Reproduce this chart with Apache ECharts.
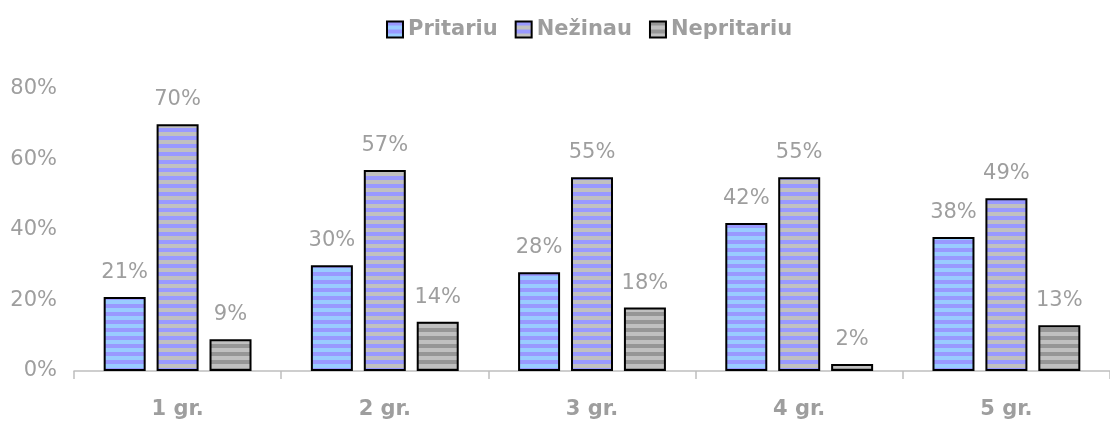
<!DOCTYPE html>
<html>
<head>
<meta charset="utf-8">
<script src="https://cdn.jsdelivr.net/npm/echarts@6/dist/echarts.min.js"></script>
<style>
  html, body { margin: 0; padding: 0; background: #fff; }
  #chart { width: 1110px; height: 423px; }
</style>
</head>
<body>
<div id="chart"></div>
<script>
// Categories and values (percent)
const categories = ['1 gr.', '2 gr.', '3 gr.', '4 gr.', '5 gr.'];
const seriesNames = ['Pritariu', 'Nežinau', 'Nepritariu'];
const pritariu = [21, 30, 28, 42, 38];
const nezinau = [70, 57, 55, 55, 49];
const nepritariu = [9, 14, 18, 2, 13];
const yTicks = [0, 20, 40, 60, 80];

// Horizontal two-colour stripe fill
function stripes(a, b) {
  const c = document.createElement('canvas');
  c.width = 8; c.height = 8;
  const ctx = c.getContext('2d');
  ctx.fillStyle = a; ctx.fillRect(0, 0, 8, 4);
  ctx.fillStyle = b; ctx.fillRect(0, 4, 8, 4);
  return { image: c, repeat: 'repeat' };
}

const fills = [
  stripes('#9999FF', '#99CCFF'),
  stripes('#9999FF', '#C0C0C0'),
  stripes('#969696', '#C0C0C0')
];
const values = [pritariu, nezinau, nepritariu];
const FONT = "'DejaVu Sans', sans-serif";
const GREY = '#9e9e9e';

const chart = echarts.init(document.getElementById('chart'), null, { renderer: 'canvas' });
chart.setOption({
  animation: false,
  textStyle: { fontFamily: FONT },
  legend: {
    left: 381, top: 14,
    icon: 'rect',
    itemWidth: 16, itemHeight: 16,
    itemGap: 17,
    itemStyle: { borderColor: '#000', borderWidth: 2 },
    textStyle: { fontFamily: FONT, fontSize: 21, fontWeight: 'bold', color: GREY },
    data: seriesNames
  },
  grid: { left: 74, right: -9, top: 89, bottom: 52, containLabel: false },
  xAxis: {
    type: 'category',
    data: categories,
    axisLine: { lineStyle: { color: '#BFBFBF', width: 1.5 } },
    axisTick: { show: true, length: 8, lineStyle: { color: '#BFBFBF', width: 1.5 } },
    axisLabel: { margin: 28, fontFamily: FONT, fontSize: 21, fontWeight: 'bold', color: GREY }
  },
  yAxis: {
    type: 'value',
    min: yTicks[0], max: yTicks[yTicks.length - 1], interval: 20,
    axisLine: { show: false },
    axisTick: { show: false },
    splitLine: { show: false },
    axisLabel: { margin: 17, fontFamily: FONT, fontSize: 21, color: GREY, formatter: '{value}%' }
  },
  series: seriesNames.map((name, i) => ({
    name,
    type: 'bar',
    data: values[i],
    barWidth: 42,
    barGap: '26%',
    itemStyle: { color: fills[i], borderColor: '#000', borderWidth: 2 },
    label: {
      show: true, position: 'top', distance: 14,
      fontFamily: FONT, fontSize: 21, color: GREY,
      formatter: '{c}%'
    }
  }))
});
</script>
</body>
</html>
